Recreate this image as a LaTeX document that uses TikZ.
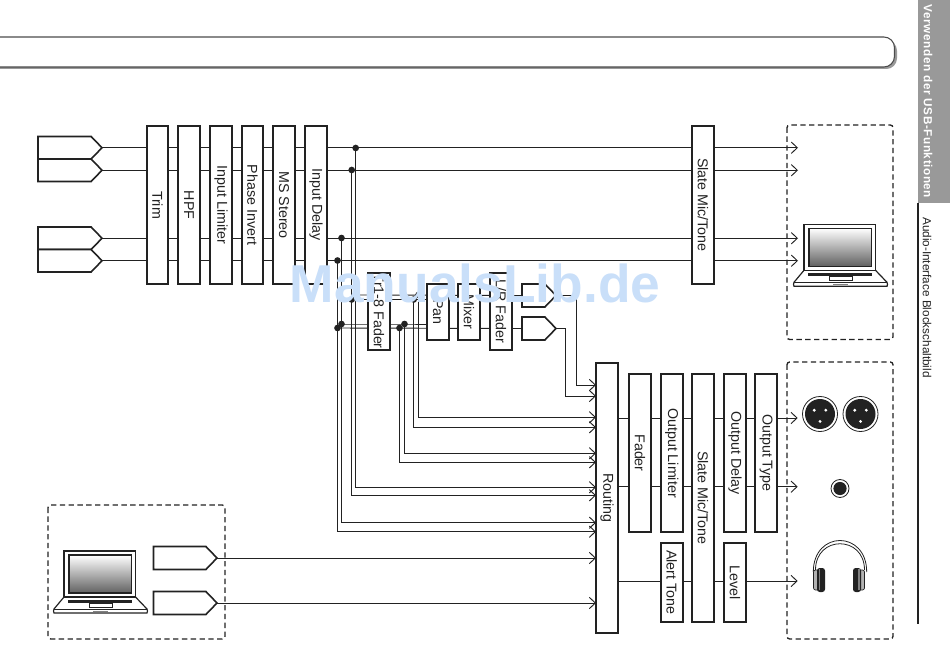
\documentclass[tikz,border=0pt]{standalone}
\usepackage{graphicx}
\usepackage{fontspec}
\setmainfont{Liberation Sans}
\usetikzlibrary{arrows.meta,shapes.symbols,shapes.geometric}
\definecolor{ink}{HTML}{222222}
\definecolor{wmark}{HTML}{C9DFF9}
\definecolor{tabgray}{HTML}{999999}
\tikzset{
  x=0.75pt,y=-0.75pt,
  blockbox/.style={draw=ink,fill=white,line width=1.5pt,inner sep=0pt,outer sep=0pt,font=\fontsize{10.7}{12}\selectfont,text=ink},
  sig/.style={draw=ink,line width=0.7pt},
  arr/.style={sig,-{Straight Barb[length=4.5pt,width=8.5pt,line width=0.7pt]}},
  jn/.style={circle,fill=ink,inner sep=0pt,minimum size=5pt,outer sep=0pt},
  pent/.style={signal,signal to=east,signal pointer angle=92,draw=ink,fill=white,line width=1.2pt,inner sep=0pt,outer sep=0pt,anchor=west},
  dashbox/.style={draw=ink,line width=1pt,rounded corners=2pt,dash pattern=on 4pt off 2.6pt},
  laptopicon/.pic={
    \draw[ink,line width=0.9pt,fill=white] (0,46) -- (71.5,46) -- (83,58) -- (83.5,60) -- (83,62) -- (-10,62) -- (-10.5,60) -- (-10,58) -- cycle;
    \draw[ink,line width=0.6pt] (-10,58) -- (83,58);
    \fill[ink] (4,48.5) rectangle (68,52);
    \draw[ink,line width=0.5pt,fill=white] (25,52) rectangle (48,56);
    \fill[gray] (29,59.5) rectangle (44,61);
    \draw[ink,line width=0.9pt,fill=white] (0,0) rectangle (71.5,46);
    \shade[top color=white,bottom color=black!62] (5,4) rectangle (67.5,42);
    \draw[ink,line width=0.8pt] (5,4) rectangle (67.5,42);
  },
  xlricon/.pic={
    \draw[ink,line width=0.6pt,fill=white] (0,0) circle (17.5);
    \fill[ink] (0,0) circle (15);
    \fill[white] (-5.8,-3.8) circle (1.6) (5.8,-3.8) circle (1.6) (0,7.4) circle (1.6);
  },
  earcup/.pic={
    \draw[ink,line width=0.5pt,fill=gray!60,rounded corners=1.5pt] (-6.5,-10) rectangle (0,10);
    \fill[ink,rounded corners=2pt] (-3,-12) rectangle (5,12);
    \fill[gray] (-1.5,-11) rectangle (0,10);
  }
}
\newcommand{\blk}[6]{\node[blockbox,minimum width={(#3-#2)*0.75pt},minimum height={(#5-#4)*0.75pt}] (#1) at ({(#2+#3)/2},{(#4+#5)/2}) {\rotatebox{-90}{#6}};}
\newcommand{\pnt}[5]{\node[pent,minimum width={(#3-#2)*0.75pt},minimum height={(#5-#4)*0.75pt}] (#1) at (#2,{(#4+#5)/2}) {};}
\begin{document}
\begin{tikzpicture}
\useasboundingbox (0,0) rectangle (950,670);
% header bar
\fill[black!40,rounded corners=8pt] (-20,40) rectangle (897,69);
\draw[black!70,fill=white,line width=0.8pt,rounded corners=8pt] (-20,37) rectangle (894.5,67);
% side tab
\fill[tabgray] (918,0) rectangle (950,203);
\draw[ink,line width=0.8pt] (918,203) -- (918,624);
\node[rotate=-90,text=white,font=\fontsize{8.8}{10}\bfseries\addfontfeature{LetterSpace=5},inner sep=0pt] (tabtitle) at (928,101.5) {Verwenden der USB-Funktionen};
\node[rotate=-90,text=ink,font=\fontsize{8.8}{10}\selectfont,inner sep=0pt] (tabsub) at (927,297.5) {Audio-Interface Blockschaltbild};
% dashed groups
\draw[dashbox] (787,125) rectangle (893,339.5);
\draw[dashbox] (787,362) rectangle (893,639);
\draw[dashbox] (48,505) rectangle (225,639);
% targets
\coordinate (tipA) at (798,0);
\coordinate (r1) at (596,385);
\coordinate (r2) at (596,396);
\coordinate (r3) at (596,417.3);
\coordinate (r4) at (596,427.3);
\coordinate (r5) at (596,453.3);
\coordinate (r6) at (596,462.3);
\coordinate (r7) at (596,487.3);
\coordinate (r8) at (596,495.3);
\coordinate (r9) at (596,522.7);
\coordinate (r10) at (596,531.7);
% sources
\pnt{s1}{38}{102}{136.5}{159}
\pnt{s2}{38}{102}{159}{181.5}
\pnt{s3}{38}{102}{227}{249.5}
\pnt{s4}{38}{102}{249.5}{272}
\pnt{p1}{522}{556}{284}{307}
\pnt{p2}{522}{556}{317}{340}
\pnt{u1}{153.5}{217}{546.5}{569.5}
\pnt{u2}{153.5}{217}{591.5}{614.5}
% junctions
\node[jn] (d1) at (355.7,148) {};
\node[jn] (d2) at (351.7,170) {};
\node[jn] (d3) at (341.5,238) {};
\node[jn] (d4) at (337.5,260.5) {};
\node[jn] (f1) at (355.7,295) {};
\node[jn] (f2) at (351.7,299.5) {};
\node[jn] (f3) at (341.5,324) {};
\node[jn] (f4) at (337.5,328) {};
\node[jn] (g1) at (418.5,295) {};
\node[jn] (g2) at (413.7,299.5) {};
\node[jn] (g3) at (404.5,324) {};
\node[jn] (g4) at (399.5,328) {};
% lines
\draw[arr] (s1.east) -- (s1.east -| tipA);
\draw[arr] (s2.east) -- (s2.east -| tipA);
\draw[arr] (s3.east) -- (s3.east -| tipA);
\draw[arr] (s4.east) -- (s4.east -| tipA);
\draw[arr] (d1.center) |- (r7);
\draw[arr] (d2.center) |- (r8);
\draw[arr] (d3.center) |- (r9);
\draw[arr] (d4.center) |- (r10);
\draw[arr] (g1.center) |- (r3);
\draw[arr] (g2.center) |- (r4);
\draw[arr] (g3.center) |- (r5);
\draw[arr] (g4.center) |- (r6);
\draw[sig] (f1.center) -- (p1.west);
\draw[sig] (f2.center) -- (g2.center) -- (427,299.5);
\draw[sig] (f3.center) -- (g3.center) -- (427,324);
\draw[sig] (f4.center) -- (p2.west);
\draw[arr] (p1.east) -| (576.7,385) -- (r1);
\draw[arr] (p2.east) -| (565.7,396) -- (r2);
\draw[arr] (u1.east) -- (u1.east -| r1);
\draw[arr] (u2.east) -- (u2.east -| r1);
\coordinate (o1) at (797.7,418);
\coordinate (o2) at (797.7,486.7);
\coordinate (o3) at (797.7,581);
\draw[arr] (618,418) coordinate (ro1) -- (o1);
\draw[arr] (618,486.7) coordinate (ro2) -- (o2);
\draw[arr] (618,581) coordinate (ro3) -- (o3);
% blocks
\blk{trim}{147}{168}{126}{284}{Trim}
\blk{hpf}{178}{200}{126}{284}{HPF}
\blk{lim}{210}{232}{126}{284}{Input Limiter}
\blk{phase}{242}{263}{126}{284}{Phase Invert}
\blk{ms}{273}{295}{126}{284}{MS Stereo}
\blk{idelay}{305}{327}{126}{284}{Input Delay}
\blk{slatea}{692}{714}{126}{284}{Slate Mic/Tone}
\blk{trfader}{368}{390}{272.7}{350}{Tr1-8 Fader}
\blk{pan}{427}{449}{284}{340}{Pan}
\blk{mixer}{458}{480}{284}{340}{Mixer}
\blk{lrfader}{490}{512}{272.7}{350}{L/R Fader}
\blk{routing}{596}{618}{363}{633}{Routing}
\blk{fader}{629}{651}{374}{532}{Fader}
\blk{olim}{661}{682.5}{374}{532}{Output Limiter}
\blk{slateb}{692}{714}{374}{621.7}{Slate Mic/Tone}
\blk{odelay}{724}{746}{374}{532}{Output Delay}
\blk{otype}{755}{777}{374}{532}{Output Type}
\blk{alert}{661}{682.5}{543}{621.7}{Alert Tone}
\blk{level}{724}{746}{543}{621.7}{Level}
% icons
\pic at (804,224.3) {laptopicon};
\pic at (64,551) {laptopicon};
\pic at (820,414) {xlricon};
\pic at (860.5,414) {xlricon};
\draw[ink,line width=0.6pt,fill=white] (840,488.5) circle (9);
\fill[ink] (840,488.5) circle (6.6);
\draw[ink,line width=0.6pt] (813.3,572) .. controls (813.3,530) and (866.7,530) .. (866.7,572);
\draw[ink,line width=0.6pt] (815.5,570) .. controls (815.5,535) and (864.5,535) .. (864.5,570);
\pic at (820,580) {earcup};
\pic[xscale=-1] at (858,580) {earcup};
% watermark
\node[text=wmark,font=\fontsize{40}{45}\bfseries,inner sep=0pt] (wm) at (475,283) {ManualsLib.de};
\end{tikzpicture}
\end{document}
